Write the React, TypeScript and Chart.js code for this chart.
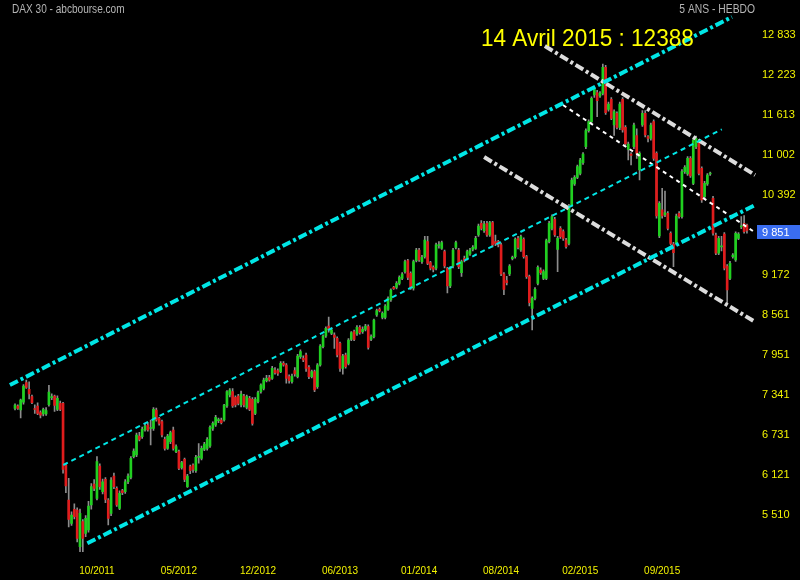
import React, { useEffect, useRef } from 'react';
import { Chart, registerables } from 'chart.js';
Chart.register(...registerables);

// Weekly OHLC of DAX 30
const opens = [
7137,7173,7112,7230,7529,7427,7315,7125,7173,7071,7051,7051,7193,7300,7325,7122,7214,7214,6273,5739,
5383,5597,5586,5027,5408,5230,5281,5663,5983,5764,6258,5866,6054,5739,5535,6105,5917,5612,5881,5866,
6018,6085,6400,6425,6715,6705,6807,6883,6830,6832,7112,6985,6934,6665,6527,6629,6807,6476,6476,6232,
6360,5943,6248,6273,6187,6390,6375,6512,6527,6563,6832,6883,6950,6960,6960,7173,7341,7392,7305,7326,
7188,7326,7153,7290,7275,7061,7239,7392,7443,7560,7605,7595,7722,7712,7697,7824,7799,7621,7544,7712,
7621,7926,7900,7951,7763,7621,7697,7468,7799,8078,8241,8394,8282,8256,8206,8129,7748,7951,7824,8190,
8307,8272,8373,8307,8343,8384,8190,8231,8561,8648,8526,8526,8648,8790,8984,8984,9045,9121,9223,9391,
9197,8969,9391,9553,9375,9452,9680,9360,9289,9274,9620,9579,9528,9274,9004,9309,9594,9553,9207,9426,
9426,9492,9563,9579,9782,9960,9848,9960,9782,9970,9680,9680,9630,9187,9086,9187,9421,9451,9731,9553,
9716,9451,9146,8663,8816,9045,9248,9121,9121,9680,9884,10021,9563,9884,9833,9706,9655,10239,10560,10662,
10723,10885,11129,11373,11511,11918,11953,11902,11943,12340,11699,11851,11460,11638,11424,11851,11424,11089,11017,11129,
11300,10774,11460,11638,11282,11257,11511,11028,9767,10164,10087,10113,9808,9645,9655,10113,10062,10748,10713,10952,
10570,11130,11206,10799,10367,10560,10713,10342,9782,9503,9600,9797,9309,9121,9452,9401,9731,9905,9960,9935
];
const highs = [
7205,7190,7280,7500,7570,7540,7340,7190,7220,7100,7140,7150,7490,7360,7340,7330,7250,7230,6290,6070,
5560,5680,5620,5600,5440,5500,5720,5990,6050,6400,6290,6060,6080,5760,6080,6150,5940,5880,5900,6050,
6140,6400,6520,6760,6770,6850,6900,6920,6960,7150,7140,7000,6960,6700,6740,6790,6850,6580,6500,6330,
6380,6130,6270,6290,6420,6600,6560,6620,6690,6870,6930,7030,6990,6990,7200,7410,7440,7440,7330,7350,
7400,7350,7340,7320,7300,7300,7400,7510,7600,7640,7640,7780,7760,7740,7850,7850,7820,7650,7660,7760,
7960,8030,7940,7980,7790,7720,7720,7820,8110,8260,8380,8530,8360,8290,8230,8150,7960,7980,8200,8310,
8330,8400,8400,8380,8420,8410,8260,8500,8650,8670,8610,8720,8840,8960,9000,9070,9160,9210,9400,9410,
9220,9400,9580,9580,9470,9760,9760,9380,9310,9660,9680,9690,9550,9290,9300,9580,9690,9580,9400,9460,
9550,9580,9620,9760,9950,10000,9990,9990,9990,9990,9780,9700,9660,9210,9150,9330,9460,9740,9760,9780,
9740,9470,9170,8840,8980,9310,9280,9250,9720,9990,10090,10050,9760,9910,9860,9730,10250,10650,10690,10850,
10950,11040,11400,11540,11890,12030,11990,11970,12390,12370,11810,11880,11690,11660,11810,11880,11450,11200,11040,11490,
11400,11050,11680,11680,11300,11490,11540,11050,10290,10494,10450,10140,9830,9670,10100,10140,10780,10840,10980,10980,
11260,11290,11240,10820,10600,10720,10740,10370,9810,9760,9760,9820,9330,9380,9500,9830,9820,10062,10080,9950
];
const lows = [
7115,7120,6990,7200,7440,7280,7210,7060,7040,6990,7020,7030,7170,7270,7090,7100,7100,6150,5850,5330,
5350,5450,5100,4950,4950,5180,5250,5600,5880,5740,5900,5830,5700,5360,5500,5910,5640,5590,5820,5840,
5990,6060,6380,6400,6640,6680,6790,6790,6580,6800,6940,6880,6700,6500,6510,6600,6500,6460,6200,6210,
6020,5930,6140,6160,6160,6300,6350,6490,6500,6540,6800,6860,6920,6900,6940,7150,7310,7150,7160,7190,
7160,7160,7130,7100,6880,7040,7220,7370,7420,7540,7550,7580,7660,7640,7680,7780,7520,7520,7520,7630,
7600,7900,7850,7700,7590,7600,7390,7440,7780,8060,8220,8300,8260,8050,7920,7700,7660,7750,7800,8170,
8170,8250,8270,8280,8320,8040,8170,8210,8540,8610,8500,8500,8630,8770,8950,8960,9020,9100,9200,9100,
8950,8940,9370,9380,9350,9430,9330,9250,9220,9250,9580,9560,9280,8900,8980,9280,9570,9270,9150,9370,
9400,9470,9540,9560,9760,9860,9820,9760,9760,9600,9620,9600,9160,8870,9020,9160,9400,9430,9570,9530,
9430,9120,8700,8333,8790,9020,9180,9100,9100,9660,9860,9760,9222,9730,9700,9580,9630,10220,10540,10640,
10700,10860,11100,11350,11490,11880,11587,11880,11920,11620,11670,11540,11300,11400,11390,11350,11150,10926,10850,11100,
10950,10621,11440,11280,11200,11230,10920,10040,9740,10040,10060,9860,9630,9299,9630,10040,10040,10720,10690,10660,
10550,11100,10700,10280,10340,10540,10690,9780,9480,9480,9540,9250,8750,9100,9430,9380,9710,9880,9810,9810
];
const closes = [
7188,7137,7264,7478,7458,7356,7224,7120,7061,7035,7122,7102,7386,7310,7183,7290,7122,6207,5952,5444,
5510,5485,5154,5535,5154,5459,5647,5942,5917,6324,5942,6018,5749,5459,6044,5942,5663,5840,5851,6018,
6105,6374,6486,6730,6664,6817,6868,6807,6840,7122,6960,6909,6731,6527,6715,6766,6527,6553,6222,6309,
6054,6105,6187,6207,6390,6400,6527,6593,6665,6848,6909,7000,6955,6919,7188,7392,7417,7173,7188,7214,
7356,7188,7315,7122,6909,7275,7376,7493,7570,7595,7570,7748,7682,7672,7824,7799,7595,7560,7631,7661,
7936,8002,7875,7748,7621,7697,7417,7799,8089,8241,8358,8333,8333,8221,7951,7748,7936,7773,8180,8292,
8190,8373,8292,8343,8394,8068,8231,8485,8628,8628,8587,8699,8816,8943,8964,9045,9136,9187,9375,9136,
8969,9375,9553,9401,9441,9706,9350,9274,9258,9630,9630,9665,9309,9004,9274,9553,9665,9299,9375,9391,
9528,9553,9594,9731,9919,9884,9950,9782,9970,9630,9655,9630,9187,8953,9055,9309,9441,9716,9594,9756,
9451,9146,8750,8816,8953,9289,9207,9223,9695,9960,10062,9782,9731,9756,9731,9604,10224,10621,10662,10824,
10926,11017,11373,11511,11867,12004,11831,11943,12340,11648,11780,11562,11663,11424,11780,11384,11170,11170,10997,11460,
11028,11028,11638,11308,11257,11460,10952,10072,10265,10072,10123,9884,9655,9513,10072,10062,10748,10814,10952,10682,
11231,11257,10723,10316,10570,10697,10713,9808,9503,9731,9610,9274,8943,9350,9477,9807,9797,9910,9833,9851
];

// Axis labels
const xTickIndex = [29, 58, 86, 115, 143, 172, 200, 229];
const xTickLabels = ['10/2011', '05/2012', '12/2012', '06/2013', '01/2014', '08/2014', '02/2015', '09/2015'];
const yTickValues = [5510, 6121, 6731, 7341, 7951, 8561, 9172, 10392, 11002, 11613, 12223, 12833];

// Trend channels: [candle index, value] endpoints
const upperChannel = [[-1.8, 7493], [253.7, 13108]];
const middleChannel = [[17.1, 6273], [250.1, 11394]];
const lowerChannel = [[25.6, 5078], [261.9, 10240]];
const upperDown = [[187.5, 12665], [261.9, 10697]];
const middleDown = [[193.9, 11765], [261.1, 9843]];
const lowerDown = [[166.0, 10972], [261.9, 8455]];

const titleText = 'DAX 30 - abcbourse.com';
const periodText = '5 ANS - HEBDO';
const peakText = '14 Avril 2015 : 12388';

// Scale calibration: value at pixel 0 and points per pixel
const Y_AT_TOP = 13367;
const PTS_PER_PX = 15.256;

const fmt = (v: number) => String(Math.round(v)).replace(/\B(?=(\d{3})+(?!\d))/g, ' ');

const CYAN = '#00e6e6';
const WHITE = '#dcdcdc';
const YELLOW = '#f2f200';

export default function App() {
  const ref = useRef<HTMLCanvasElement>(null);
  useEffect(() => {
    const canvas = ref.current!;
    const idx = closes.map((_, i) => i);
    const bodyColors = closes.map((c, i) => (c >= opens[i] ? '#20d020' : '#e01c1c'));
    const lineDs = (pts: number[][], color: string, width: number, dash: number[]) => ({
      type: 'line' as const,
      data: pts.map((p) => ({ x: p[0], y: p[1] })),
      borderColor: color,
      borderWidth: width,
      borderDash: dash,
      borderCapStyle: 'butt' as const,
      pointRadius: 0,
      fill: false,
      tension: 0,
      order: 1,
      clip: false as any,
    });

    const condensed = (c: CanvasRenderingContext2D, text: string, x: number, y: number, sx: number, align: 'left' | 'right') => {
      c.save();
      const w = c.measureText(text).width * sx;
      const left = align === 'left' ? x : x - w;
      c.translate(left, y);
      c.scale(sx, 1);
      c.textAlign = 'left';
      c.fillText(text, 0, 0);
      c.restore();
    };

    const decor = {
      id: 'decor',
      afterLayout(chart: any) {
        const s = chart.scales.y;
        s.max = Y_AT_TOP - PTS_PER_PX * s.top;
        s.min = Y_AT_TOP - PTS_PER_PX * s.bottom;
        s.configure();
      },
      beforeDraw(chart: any) {
        const c = chart.ctx;
        c.save();
        c.fillStyle = '#000';
        c.fillRect(0, 0, chart.width, chart.height);
        c.restore();
      },
      afterDraw(chart: any) {
        const c = chart.ctx as CanvasRenderingContext2D;
        c.save();
        c.textBaseline = 'middle';
        c.fillStyle = '#b4b4b4';
        c.font = "12px 'Liberation Sans', sans-serif";
        condensed(c, titleText, 12, 10, 0.84, 'left');
        condensed(c, periodText, 755, 10, 0.86, 'right');
        c.textBaseline = 'alphabetic';
        c.fillStyle = '#ffff00';
        c.font = "24px 'Liberation Sans', sans-serif";
        condensed(c, peakText, 481, 46, 0.94, 'left');
        // last price box
        const last = closes[closes.length - 1];
        const y = Math.round(chart.scales.y.getPixelForValue(last)) + 2;
        c.fillStyle = '#3a6df0';
        c.fillRect(757, y - 7, 43, 14);
        c.fillStyle = '#ffffff';
        c.font = "11px 'Liberation Sans', sans-serif";
        c.textBaseline = 'middle';
        c.textAlign = 'left';
        c.fillText(fmt(last), 762, y + 0.5);
        c.restore();
      },
    };

    const chart = new Chart(canvas, {
      type: 'bar',
      data: {
        datasets: [
          {
            type: 'bar',
            label: 'wick',
            data: idx.map((i) => ({ x: i, y: [lows[i], highs[i]] })) as any,
            backgroundColor: '#8c8c8c',
            barThickness: 1,
            grouped: false,
            order: 3,
          } as any,
          {
            type: 'bar',
            label: 'body',
            data: idx.map((i) => ({ x: i, y: [opens[i], closes[i]] })) as any,
            backgroundColor: bodyColors,
            barThickness: 2,
            minBarLength: 1,
            grouped: false,
            order: 2,
          } as any,
          lineDs(upperChannel, CYAN, 4, [9, 3, 3, 3]),
          lineDs(lowerChannel, CYAN, 4, [9, 3, 3, 3]),
          lineDs(middleChannel, CYAN, 2, [5, 4]),
          lineDs(upperDown, WHITE, 4, [9, 3, 3, 3]),
          lineDs(lowerDown, WHITE, 4, [9, 3, 3, 3]),
          lineDs(middleDown, '#ffffff', 2, [4, 4]),
        ] as any,
      },
      options: {
        responsive: false,
        animation: false,
        devicePixelRatio: 1,
        layout: { padding: 0 },
        plugins: { legend: { display: false }, tooltip: { enabled: false }, title: { display: false } },
        scales: {
          x: {
            type: 'linear',
            min: -5.31,
            max: 261.85,
            offset: false,
            grid: { display: false, drawTicks: false },
            border: { display: false },
            afterBuildTicks: (s: any) => {
              s.ticks = xTickIndex.map((v) => ({ value: v }));
            },
            afterFit: (s: any) => {
              s.height = 25;
            },
            ticks: {
              color: YELLOW,
              font: { size: 10, family: "'Liberation Sans', sans-serif" },
              padding: 10,
              maxRotation: 0,
              autoSkip: false,
              callback: (v: any) => {
                const k = xTickIndex.indexOf(Number(v));
                return k >= 0 ? xTickLabels[k] : '';
              },
            },
          },
          y: {
            type: 'linear',
            position: 'right',
            min: 4900,
            max: 13367,
            grid: { display: false, drawTicks: false },
            border: { display: false },
            afterBuildTicks: (s: any) => {
              s.ticks = yTickValues.map((v) => ({ value: v }));
            },
            afterFit: (s: any) => {
              s.width = 45;
            },
            ticks: {
              color: YELLOW,
              font: { size: 11, family: "'Liberation Sans', sans-serif" },
              padding: 7,
              callback: (v: any) => fmt(Number(v)),
            },
          },
        },
      } as any,
      plugins: [decor],
    });
    return () => chart.destroy();
  }, []);

  return (
    <div style={{ position: 'fixed', left: 0, top: 0, width: 800, height: 580, background: '#000' }}>
      <canvas ref={ref} width={800} height={580} style={{ display: 'block', width: 800, height: 580 }} />
    </div>
  );
}
